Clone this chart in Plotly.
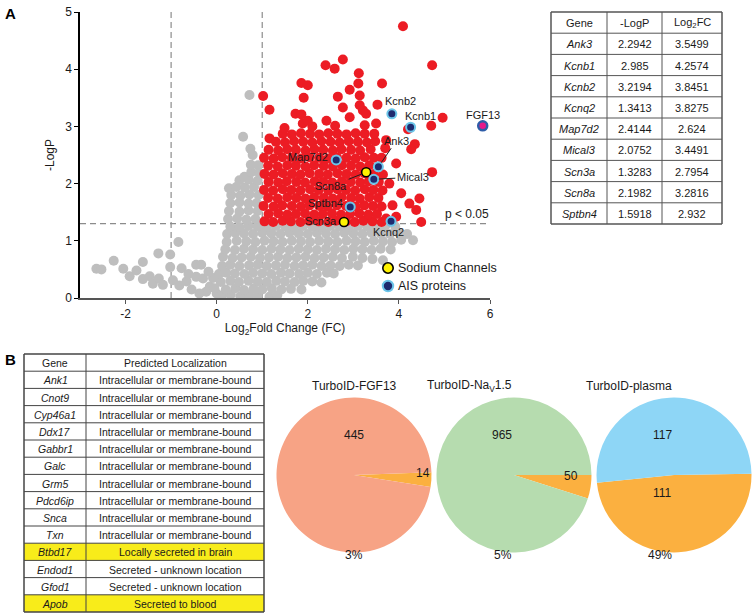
import plotly.graph_objects as go

# ---------------- data ----------------
# Volcano plot: background (non-significant) points
gray_pts = [
    (-2.64, 0.51), (-2.53, 0.50), (-2.26, 0.65), (-2.05, 0.51), (-1.91, 0.38), (-1.76, 0.48),
    (-1.62, 0.63), (-1.62, 0.33), (-1.47, 0.38), (-1.40, 0.25), (-1.28, 0.78), (-1.27, 0.34),
    (-1.18, 0.23), (-1.02, 0.76), (-1.02, 0.54), (-0.84, 0.98), (-0.77, 0.52), (-0.96, 0.31),
    (-0.82, 0.22), (-0.66, 0.29), (-0.55, 0.15), (-0.45, 0.58), (-0.34, 0.58), (-0.45, 0.37),
    (-0.30, 0.34), (-0.62, 0.42), (-0.15, 0.20), (-0.23, 0.11), (0.00, 0.08), (-0.08, 0.35),
    (-0.38, 0.08), (-0.18, 0.46),
    (0.12, 0.04), (0.31, 0.06), (0.52, 0.03), (0.71, 0.05), (0.90, 0.04), (1.16, 0.02), (1.33, 0.05),
    (-0.05, 0.17), (0.20, 0.15), (0.41, 0.17), (0.60, 0.14), (0.81, 0.16), (1.00, 0.15), (1.21, 0.17),
    (1.42, 0.15), (1.63, 0.16), (1.86, 0.15),
    (0.09, 0.28), (0.30, 0.30), (0.49, 0.28), (0.70, 0.30), (0.90, 0.29), (1.10, 0.28), (1.31, 0.30),
    (1.50, 0.29), (1.71, 0.28), (1.90, 0.30), (2.10, 0.29), (2.30, 0.27),
    (0.05, 0.42), (0.21, 0.44), (0.40, 0.43), (0.61, 0.42), (0.80, 0.44), (1.00, 0.43), (1.20, 0.42),
    (1.41, 0.44), (1.60, 0.43), (1.81, 0.42), (2.00, 0.44), (2.20, 0.42), (2.42, 0.44), (2.57, 0.43),
    (0.12, 0.56), (0.30, 0.58), (0.50, 0.56), (0.71, 0.57), (0.90, 0.58), (1.10, 0.56), (1.30, 0.57),
    (1.50, 0.58), (1.71, 0.56), (1.90, 0.57), (2.10, 0.58), (2.30, 0.56), (2.50, 0.57), (2.70, 0.56),
    (2.90, 0.58), (3.10, 0.57),
    (0.14, 0.72), (0.35, 0.70), (0.55, 0.71), (0.75, 0.72), (0.95, 0.70), (1.15, 0.71), (1.35, 0.72),
    (1.55, 0.70), (1.75, 0.71), (1.95, 0.72), (2.15, 0.70), (2.35, 0.71), (2.55, 0.72), (2.75, 0.70),
    (2.99, 0.72), (3.20, 0.70), (3.42, 0.68), (3.65, 0.66),
    (0.19, 0.85), (0.40, 0.84), (0.60, 0.86), (0.80, 0.85), (1.00, 0.84), (1.20, 0.86), (1.40, 0.85),
    (1.60, 0.84), (1.80, 0.86), (2.00, 0.85), (2.20, 0.84), (2.40, 0.86), (2.60, 0.85), (2.80, 0.84),
    (3.00, 0.86), (3.20, 0.85), (3.40, 0.84), (3.60, 0.86), (3.82, 0.85),
    (0.22, 0.98), (0.44, 1.00), (0.65, 0.99), (0.85, 0.98), (1.05, 1.00), (1.25, 0.99), (1.45, 0.98),
    (1.65, 1.00), (1.85, 0.99), (2.05, 0.98), (2.25, 1.00), (2.45, 0.99), (2.65, 0.98), (2.85, 1.00),
    (3.05, 0.99), (3.25, 0.98), (3.45, 1.00), (3.65, 0.99), (3.85, 0.98), (4.05, 1.02), (4.31, 1.01),
    (0.23, 1.12), (0.41, 1.14), (0.60, 1.13), (0.80, 1.12), (1.00, 1.14), (1.20, 1.13), (1.40, 1.12),
    (1.60, 1.14), (1.80, 1.13), (2.00, 1.12), (2.20, 1.14), (2.40, 1.13), (2.60, 1.12), (2.80, 1.14),
    (3.00, 1.13), (3.20, 1.12), (3.40, 1.14), (3.60, 1.13), (3.80, 1.12), (4.00, 1.14), (4.18, 1.12),
    (0.30, 1.25), (0.50, 1.24), (0.70, 1.26), (0.90, 1.25), (1.10, 1.24), (1.30, 1.26), (1.50, 1.25),
    (1.70, 1.24), (1.90, 1.26), (2.10, 1.25), (2.30, 1.24), (2.50, 1.26), (2.70, 1.25), (2.90, 1.24),
    (3.10, 1.26), (3.30, 1.25), (3.50, 1.24), (3.70, 1.26), (3.92, 1.25),
    (0.25, 1.38), (0.45, 1.39), (0.65, 1.37), (0.85, 1.38), (0.27, 1.52), (0.50, 1.51), (0.70, 1.53),
    (0.90, 1.52), (0.30, 1.66), (0.50, 1.67), (0.70, 1.65), (0.88, 1.66), (0.32, 1.80), (0.52, 1.79),
    (0.72, 1.81), (0.92, 1.80), (0.27, 1.92), (0.43, 1.94), (0.62, 1.93), (0.82, 1.94), (0.50, 2.06),
    (0.70, 2.07), (0.90, 2.05), (0.61, 2.12), (0.76, 2.20), (0.93, 2.19), (0.91, 2.32), (0.75, 2.33),
    (0.79, 2.50), (0.74, 2.61), (0.58, 2.82), (0.72, 3.55),
]

# Significant (FC > 2, p < 0.05) points
red_pts = [
    (1.05, 1.34), (1.24, 1.33), (1.45, 1.35), (1.63, 1.34), (1.84, 1.33), (2.03, 1.35), (2.24, 1.34),
    (2.45, 1.33), (2.62, 1.35), (2.84, 1.34), (3.03, 1.33), (3.22, 1.35), (3.42, 1.34), (3.62, 1.33),
    (1.14, 1.47), (1.35, 1.48), (1.55, 1.46), (1.74, 1.47), (1.94, 1.48), (2.14, 1.46), (2.33, 1.47),
    (2.53, 1.48), (2.73, 1.46), (2.93, 1.47), (3.13, 1.48), (3.33, 1.46), (3.52, 1.47),
    (1.03, 1.61), (1.25, 1.60), (1.44, 1.62), (1.65, 1.61), (1.85, 1.60), (2.04, 1.62), (2.25, 1.61),
    (2.43, 1.60), (2.64, 1.62), (2.84, 1.61), (3.05, 1.60), (3.24, 1.62), (3.43, 1.61), (3.62, 1.60),
    (1.13, 1.75), (1.34, 1.74), (1.55, 1.76), (1.75, 1.75), (1.95, 1.74), (2.14, 1.76), (2.35, 1.75),
    (2.55, 1.74), (2.74, 1.76), (2.95, 1.75), (3.14, 1.74), (3.35, 1.76), (3.55, 1.75),
    (1.04, 1.89), (1.24, 1.88), (1.45, 1.90), (1.64, 1.89), (1.84, 1.88), (2.05, 1.90), (2.24, 1.89),
    (2.45, 1.88), (2.65, 1.90), (2.84, 1.89), (3.04, 1.88), (3.25, 1.90), (3.44, 1.89), (3.64, 1.88),
    (1.14, 2.03), (1.35, 2.02), (1.54, 2.04), (1.75, 2.03), (1.94, 2.02), (2.15, 2.04), (2.34, 2.03),
    (2.54, 2.02), (2.75, 2.04), (2.94, 2.03), (3.15, 2.02), (3.34, 2.04), (3.56, 2.03),
    (1.05, 2.17), (1.25, 2.16), (1.45, 2.18), (1.65, 2.17), (1.84, 2.16), (2.04, 2.18), (2.25, 2.17),
    (2.44, 2.16), (2.65, 2.18), (2.85, 2.17), (3.05, 2.16), (3.24, 2.18), (3.45, 2.17), (3.65, 2.16),
    (1.13, 2.31), (1.34, 2.30), (1.55, 2.32), (1.74, 2.31), (1.95, 2.30), (2.14, 2.32), (2.35, 2.31),
    (2.55, 2.30), (2.75, 2.32), (2.95, 2.31), (3.15, 2.30), (3.35, 2.32),
    (1.04, 2.45), (1.25, 2.44), (1.44, 2.46), (1.65, 2.45), (1.85, 2.44), (2.04, 2.46), (2.25, 2.45),
    (2.45, 2.44), (2.64, 2.46), (2.85, 2.45), (3.05, 2.44), (3.25, 2.46), (3.45, 2.45),
    (1.14, 2.59), (1.35, 2.58), (1.55, 2.60), (1.74, 2.59), (1.95, 2.58), (2.15, 2.60), (2.34, 2.59),
    (2.55, 2.58), (2.74, 2.60), (2.95, 2.59), (3.15, 2.58), (3.38, 2.60),
    (1.16, 2.79), (1.30, 2.73), (1.50, 2.72), (1.70, 2.74), (1.90, 2.73), (2.10, 2.72), (2.30, 2.74),
    (2.50, 2.73), (2.70, 2.72), (2.90, 2.74), (3.10, 2.73), (3.30, 2.72), (3.48, 2.74),
    (1.45, 2.87), (1.65, 2.86), (1.85, 2.88), (2.05, 2.87), (2.25, 2.86), (2.45, 2.88), (2.65, 2.87),
    (2.85, 2.86), (3.05, 2.88), (3.25, 2.87), (3.46, 2.87),
    (1.49, 2.97), (1.89, 3.05), (2.10, 3.00), (2.41, 3.10), (2.60, 3.01), (2.92, 3.16), (3.21, 3.28),
    (3.50, 3.05), (2.00, 3.10), (3.25, 3.02),
    (4.09, 4.75), (4.73, 4.07), (2.39, 4.07), (2.77, 4.17), (2.59, 4.01), (3.12, 3.93), (1.86, 3.76),
    (2.00, 3.72), (3.11, 3.75), (3.63, 3.75), (1.02, 3.53), (1.91, 3.50), (2.66, 3.52), (2.92, 3.64),
    (3.14, 3.54), (3.14, 3.37), (3.53, 3.38), (1.16, 3.29), (2.77, 3.33), (1.73, 3.22), (1.86, 3.21),
    (3.28, 3.22), (4.96, 3.15), (4.71, 3.01), (4.20, 2.95), (4.35, 2.69), (4.27, 2.60), (4.73, 2.20),
    (4.05, 1.83), (4.23, 1.65), (4.45, 1.74), (4.38, 1.54), (4.49, 1.33), (3.94, 2.35), (3.79, 2.00),
    (3.94, 1.42), (3.72, 1.39), (3.86, 1.62), (3.70, 2.62), (3.62, 2.45), (3.72, 2.76),
]

# Highlighted proteins (table values)
genes = ["Ank3", "Kcnb1", "Kcnb2", "Kcnq2", "Map7d2", "Mical3", "Scn3a", "Scn8a", "Sptbn4"]
neg_log_p = [2.2942, 2.985, 3.2194, 1.3413, 2.4144, 2.0752, 1.3283, 2.1982, 1.5918]
log2_fc = [3.5499, 4.2574, 3.8451, 3.8275, 2.624, 3.4491, 2.7954, 3.2816, 2.932]
sodium_channels = ["Scn3a", "Scn8a"]

fgf13_fc = [5.84]
fgf13_p = [3.01]

x_ticks = [-2, 0, 2, 4, 6]
x_tick_text = ["-2", "0", "2", "4", "6"]

# Panel B table
b_genes = ["Ank1", "Cnot9", "Cyp46a1", "Ddx17", "Gabbr1", "Galc", "Grm5", "Pdcd6ip",
           "Snca", "Txn", "Btbd17", "Endod1", "Gfod1", "Apob"]
b_loc = ["Intracellular or membrane-bound"] * 10 + [
    "Locally secreted in brain", "Secreted - unknown location",
    "Secreted - unknown location", "Secreted to blood"]
b_highlight = ["Locally secreted in brain", "Secreted to blood"]

# Pie charts
pie_titles = ["TurboID-FGF13", "TurboID-Na<sub>V</sub>1.5", "TurboID-plasma"]
pie_secreted = [14, 50, 111]
pie_other = [445, 965, 117]
pie_pct = ["3%", "5%", "49%"]

# ---------------- styles ----------------
W, H = 752, 614
FONT = "Liberation Sans, Arial, Helvetica, sans-serif"
GRAY = "#BEBEBE"
RED = "#EC1C24"
NAVY = "#1E2A6E"
LIGHTBLUE = "#6CC5E9"
YELLOW = "#FFF200"
ORANGE = "#FBB040"
pie_colors = ["#F7A385", "#B6DCAF", "#8ED6F6"]
pie_rot = [88, 90, 89]
TXT = "#1a1a1a"


def px_x(p):
    return p / W


def px_y(p):
    return 1 - p / H


fig = go.Figure()
shapes = []
annotations = []

fig.add_trace(go.Scatter(
    x=[p[0] for p in gray_pts], y=[p[1] for p in gray_pts], mode="markers",
    marker=dict(color=GRAY, size=10, line=dict(width=0)),
    showlegend=False, hoverinfo="skip"))
fig.add_trace(go.Scatter(
    x=[p[0] for p in red_pts], y=[p[1] for p in red_pts], mode="markers",
    marker=dict(color=RED, size=10, line=dict(width=0)),
    showlegend=False, hoverinfo="skip"))

sod_idx = [i for i, g in enumerate(genes) if g in sodium_channels]
ais_idx = [i for i, g in enumerate(genes) if g not in sodium_channels]

sod_marker = dict(color=YELLOW, size=9, line=dict(color="black", width=1.6))
ais_marker = dict(color=NAVY, size=9, line=dict(color=LIGHTBLUE, width=2))
fig.add_trace(go.Scatter(
    x=[log2_fc[i] for i in sod_idx], y=[neg_log_p[i] for i in sod_idx], mode="markers",
    name="Sodium Channels", marker=sod_marker, showlegend=False, hoverinfo="skip"))
fig.add_trace(go.Scatter(
    x=[log2_fc[i] for i in ais_idx], y=[neg_log_p[i] for i in ais_idx], mode="markers",
    name="AIS proteins", marker=ais_marker, showlegend=False, hoverinfo="skip"))
fig.add_trace(go.Scatter(
    x=fgf13_fc, y=fgf13_p, mode="markers", showlegend=False,
    marker=dict(color="#E6198A", size=9, line=dict(color="#2E5DA8", width=2.5)),
    hoverinfo="skip"))

# threshold lines (below markers)
line_style = dict(color="#8C8C8C", width=1.2, dash="6px,4px")
for xv in (-1, 1):
    shapes.append(dict(type="line", xref="x", yref="y", x0=xv, x1=xv, y0=0, y1=5,
                       line=line_style, layer="below"))
shapes.append(dict(type="line", xref="x", yref="y", x0=-3, x1=6, y0=1.3, y1=1.3,
                   line=line_style, layer="below"))

annotations.append(dict(x=5.5, y=1.3, xref="x", yref="y", text="p < 0.05", showarrow=False,
                        yanchor="bottom", yshift=1, font=dict(size=12, color=TXT)))

# gene labels
label_style = {
    "Kcnb2": dict(showarrow=False, xshift=9, yshift=13),
    "Kcnb1": dict(showarrow=False, xshift=10, yshift=11),
    "Map7d2": dict(showarrow=False, xshift=-28, yshift=3),
    "Sptbn4": dict(showarrow=False, xshift=-25, yshift=4),
    "Scn3a": dict(showarrow=False, xshift=-23, yshift=1),
    "Kcnq2": dict(showarrow=False, xshift=-3, yshift=-11),
    "Ank3": dict(showarrow=True, ax=18, ay=-26),
    "Mical3": dict(showarrow=True, ax=39, ay=-2),
    "Scn8a": dict(showarrow=True, ax=-35, ay=14),
}
for g, fc, p in zip(genes, log2_fc, neg_log_p):
    st = label_style[g]
    a = dict(x=fc, y=p, xref="x", yref="y", text=g, font=dict(size=11, color=TXT))
    if st["showarrow"]:
        a.update(showarrow=True, ax=st["ax"], ay=st["ay"], arrowhead=0, arrowwidth=1,
                 arrowcolor="#222", standoff=5)
    else:
        a.update(showarrow=False, xshift=st["xshift"], yshift=st["yshift"])
    annotations.append(a)
annotations.append(dict(x=fgf13_fc[0], y=fgf13_p[0], xref="x", yref="y", text="FGF13",
                        showarrow=False, yshift=11, font=dict(size=11, color=TXT)))

# legend (drawn manually so that it sits exactly as in the figure)
leg_items = [("Sodium Channels", sod_marker, 268), ("AIS proteins", ais_marker, 286)]
for name, mk, yy in leg_items:
    r = 5.2
    shapes.append(dict(type="circle", xref="paper", yref="paper",
                       x0=px_x(388 - r), x1=px_x(388 + r), y0=px_y(yy + r), y1=px_y(yy - r),
                       fillcolor=mk["color"], line=dict(color=mk["line"]["color"],
                                                        width=mk["line"]["width"])))
    annotations.append(dict(x=px_x(396), y=px_y(yy), xref="paper", yref="paper", text=name,
                            showarrow=False, xanchor="left", yanchor="middle",
                            font=dict(size=12.5, color=TXT)))

# panel letters
annotations.append(dict(x=px_x(3), y=px_y(3), xref="paper", yref="paper", text="<b>A</b>",
                        showarrow=False, xanchor="left", yanchor="top", font=dict(size=15, color="black")))
annotations.append(dict(x=px_x(3), y=px_y(349), xref="paper", yref="paper", text="<b>B</b>",
                        showarrow=False, xanchor="left", yanchor="top", font=dict(size=15, color="black")))


# ---------------- tables (drawn as shapes + text) ----------------
def draw_table(x_edges, y_top, row_h, columns, row_fills, font_size, line_color, outer_w):
    n_rows = len(columns[0])
    y_bot = y_top + n_rows * row_h
    for r in range(n_rows):
        y0 = y_top + r * row_h
        if row_fills[r] != "white":
            shapes.append(dict(type="rect", xref="paper", yref="paper",
                               x0=px_x(x_edges[0]), x1=px_x(x_edges[-1]),
                               y0=px_y(y0 + row_h), y1=px_y(y0),
                               fillcolor=row_fills[r], line=dict(width=0), layer="below"))
        for c, col in enumerate(columns):
            annotations.append(dict(x=px_x((x_edges[c] + x_edges[c + 1]) / 2),
                                    y=px_y(y0 + row_h / 2 + 0.5),
                                    xref="paper", yref="paper", text=col[r], showarrow=False,
                                    xanchor="center", yanchor="middle",
                                    font=dict(size=font_size, color=TXT)))
    for r in range(n_rows + 1):
        yy = y_top + r * row_h
        w = outer_w if r in (0, n_rows) else 1
        shapes.append(dict(type="line", xref="paper", yref="paper",
                           x0=px_x(x_edges[0]), x1=px_x(x_edges[-1]), y0=px_y(yy), y1=px_y(yy),
                           line=dict(color=line_color, width=w)))
    for k, xx in enumerate(x_edges):
        w = outer_w if k in (0, len(x_edges) - 1) else 1
        shapes.append(dict(type="line", xref="paper", yref="paper",
                           x0=px_x(xx), x1=px_x(xx), y0=px_y(y_top), y1=px_y(y_bot),
                           line=dict(color=line_color, width=w)))


tab_a = [["Gene"] + ["<i>%s</i>" % g for g in genes],
         ["-LogP"] + [str(v) for v in neg_log_p],
         ["Log<sub>2</sub>FC"] + [str(v) for v in log2_fc]]
draw_table([551, 607, 662, 722], 12, 21.2, tab_a, ["white"] * 10, 11, "#555", 1.5)

tab_b = [["Gene"] + ["<i>%s</i>" % g for g in b_genes],
         ["Predicted Localization"] + b_loc]
fills_b = ["white"] + ["#F8EC1A" if l in b_highlight else "white" for l in b_loc]
draw_table([24, 86, 264], 354, 17.2, tab_b, fills_b, 10.5, "#444", 1.5)

# ---------------- pies ----------------
pie_cx = [354, 514, 674]
pie_r = 77.5
pie_cy = 475
for i in range(3):
    cx = pie_cx[i]
    fig.add_trace(go.Pie(
        values=[pie_secreted[i], pie_other[i]],
        marker=dict(colors=[ORANGE, pie_colors[i]], line=dict(width=0)),
        sort=False, direction="clockwise", rotation=pie_rot[i],
        textinfo="none", hoverinfo="skip", showlegend=False,
        domain=dict(x=[px_x(cx - pie_r), px_x(cx + pie_r)],
                    y=[px_y(pie_cy + pie_r), px_y(pie_cy - pie_r)]),
    ))
    annotations.append(dict(x=px_x(cx), y=px_y(386), xref="paper", yref="paper",
                            text=pie_titles[i], showarrow=False,
                            font=dict(size=12, color=TXT)))
    annotations.append(dict(x=px_x(cx), y=px_y(564), xref="paper", yref="paper",
                            text=pie_pct[i], showarrow=False,
                            font=dict(size=12, color=TXT)))

num_pos = [((354, 444), (423, 482)), ((514, 444), (580, 485)), ((674, 444), (674, 502))]
for i in range(3):
    (ox, oy), (sx, sy) = num_pos[i]
    annotations.append(dict(x=px_x(ox), y=px_y(oy), xref="paper", yref="paper",
                            text=str(pie_other[i]), showarrow=False,
                            font=dict(size=12, color=TXT)))
    annotations.append(dict(x=px_x(sx), y=px_y(sy), xref="paper", yref="paper",
                            text=str(pie_secreted[i]), showarrow=False,
                            font=dict(size=12, color=TXT)))

fig.update_layout(
    width=W, height=H, margin=dict(l=0, r=0, t=0, b=0),
    paper_bgcolor="white", plot_bgcolor="white",
    font=dict(family=FONT, size=12, color=TXT),
    annotations=annotations, shapes=shapes,
    showlegend=False,
    xaxis=dict(domain=[px_x(80), px_x(490)], range=[-3, 6], tickvals=x_ticks,
               ticktext=x_tick_text,
               showgrid=False, zeroline=False, showline=True, linecolor="#555", linewidth=2,
               ticks="outside", ticklen=4, tickcolor="#555", tickfont=dict(size=12),
               title=dict(text="Log<sub>2</sub>Fold Change (FC)", font=dict(size=12), standoff=3),
               automargin=False, anchor="y", fixedrange=True),
    yaxis=dict(domain=[px_y(298), px_y(12)], range=[0, 5], dtick=1,
               showgrid=False, zeroline=False, showline=True, linecolor="black", linewidth=1.5,
               ticks="outside", ticklen=4, tickcolor="black", tickfont=dict(size=12),
               title=dict(text="-LogP", font=dict(size=12), standoff=8),
               automargin=False, anchor="x", fixedrange=True),
)

fig.write_html("out.html")
